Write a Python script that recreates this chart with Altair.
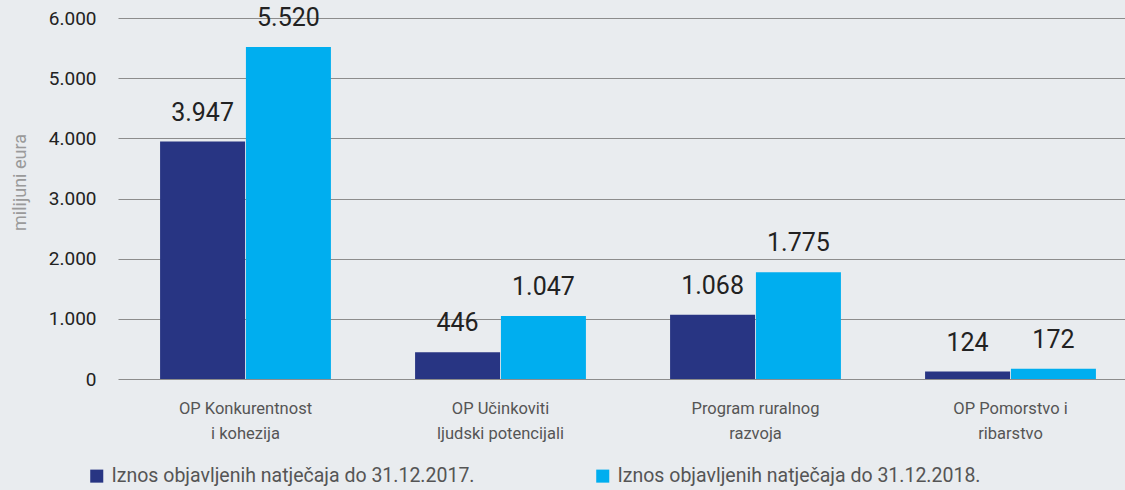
import altair as alt
import pandas as pd

categories = ["OP Konkurentnost|i kohezija", "OP Učinkoviti|ljudski potencijali",
              "Program ruralnog|razvoja", "OP Pomorstvo i|ribarstvo"]
series = ["Iznos objavljenih natječaja do 31.12.2017.", "Iznos objavljenih natječaja do 31.12.2018."]
values_2017 = [3947, 446, 1068, 124]
values_2018 = [5520, 1047, 1775, 172]
colors = ["#283583", "#00aeef"]

rows = []
for c, v in zip(categories, values_2017):
    rows.append({"cat": c, "series": series[0], "value": v})
for c, v in zip(categories, values_2018):
    rows.append({"cat": c, "series": series[1], "value": v})
df = pd.DataFrame(rows)

FONT = "Roboto"

xscale = alt.Scale(paddingInner=0.33, paddingOuter=0.165, range=[-2, 1018])
x = alt.X("cat:N", sort=categories, title=None, scale=xscale,
          axis=alt.Axis(labelExpr="split(datum.label, '|')", labelAngle=0, labelFontSize=16.5,
                        labelColor="#555555", labelPadding=21, ticks=False, domain=False,
                        labelLineHeight=25, labelFont=FONT))
xo = alt.XOffset("series:N", sort=series, scale=alt.Scale(paddingInner=0.01))
y = alt.Y("value:Q", title="milijuni eura",
          scale=alt.Scale(domain=[0, 6000]),
          axis=alt.Axis(values=[0, 1000, 2000, 3000, 4000, 5000, 6000],
                        labelExpr="replace(format(datum.value, ','), ',', '.')",
                        labelFontSize=19, labelColor="#222222", labelPadding=24,
                        ticks=False, domain=False, gridColor="#8c8c8c", gridWidth=1.2,
                        titleFontSize=18, titleColor="#9a9a9a", titleFontWeight="normal",
                        titleX=-95, titleY=164, titleAngle=270, titleBaseline="alphabetic",
                        labelFont=FONT, titleFont=FONT))

color = alt.Color("series:N", sort=series, scale=alt.Scale(domain=series, range=colors),
                  legend=alt.Legend(orient="none", legendX=-33, legendY=448, direction="horizontal",
                                    title=None, symbolType="square", symbolSize=170,
                                    symbolStrokeWidth=0, labelFontSize=19.5, labelColor="#555555",
                                    labelFont=FONT, columnPadding=118, labelOffset=5,
                                    labelLimit=500, symbolOpacity=1))

bars = alt.Chart(df).mark_bar(opacity=1).encode(x=x, xOffset=xo, y=y, color=color)

text = alt.Chart(df).transform_calculate(
    label="replace(format(datum.value, ','), ',', '.')"
).mark_text(dy=-16, baseline="bottom", fontSize=25, color="#222222", font=FONT).encode(
    x=alt.X("cat:N", sort=categories, scale=xscale), xOffset=xo, y="value:Q", text="label:N")

chart = alt.layer(bars, text).properties(
    width=1005, height=361,
    padding={"left": 120, "top": 18, "right": 0, "bottom": 111},
    autosize=alt.AutoSizeParams(type="none"),
    background="#e9ecef",
).configure_view(stroke=None)

chart.save("out.html", embed_options={"renderer": "svg", "actions": False})
